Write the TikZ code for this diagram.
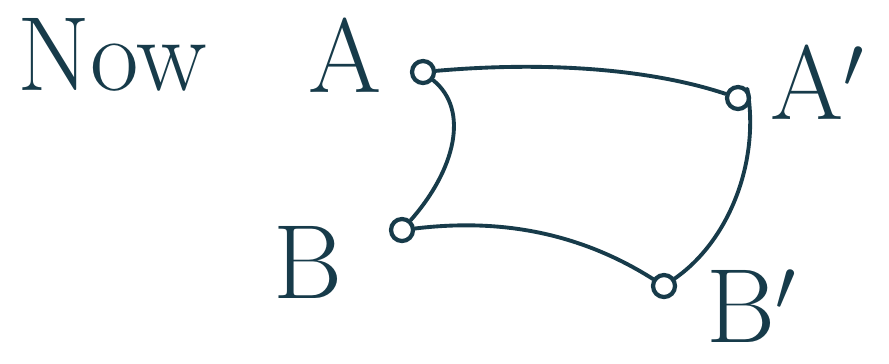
\documentclass[tikz,border=0pt]{standalone}
\usepackage{tikz}
\usetikzlibrary{positioning}
\definecolor{Ink}{HTML}{173B4A}
\tikzset{
  dot/.style={circle,draw=Ink,line width=1.2pt,inner sep=0pt,minimum size=2.2mm},
  lbl/.style={text=Ink,font=\fontsize{30}{32}\selectfont},
  curve/.style={draw=Ink,line width=1.1pt,line cap=round}
}

\begin{document}
\begin{tikzpicture}[x=0.01cm,y=-0.01cm]
  \useasboundingbox (0,0) rectangle (889,363);
  \node[lbl,anchor=west] (now) at (5,55) {Now};
  \node[dot] (a) at (423,72) {};
  \node[dot] (ap) at (738,98) {};
  \node[dot] (b) at (402,230) {};
  \node[dot] (bp) at (664,286) {};
  \node[lbl] (alab) at (345,55) {A};
  \node[lbl] (aplab) at (818,82) {A$'$};
  \node[lbl] (blab) at (308,262) {B};
  \node[lbl,inner sep=1pt] (bplab) at (752,306) {B$'$};
  \draw[curve] (a) .. controls (560,60) and (660,72) .. (ap);
  \draw[curve] (a) .. controls (470,110) and (455,170) .. (b);
  \draw[curve] (ap.north east) .. controls (760,160) and (730,240) .. (bp);
  \draw[curve] (b) .. controls (470,222) and (560,220) .. (bp);
\end{tikzpicture}
\end{document}
